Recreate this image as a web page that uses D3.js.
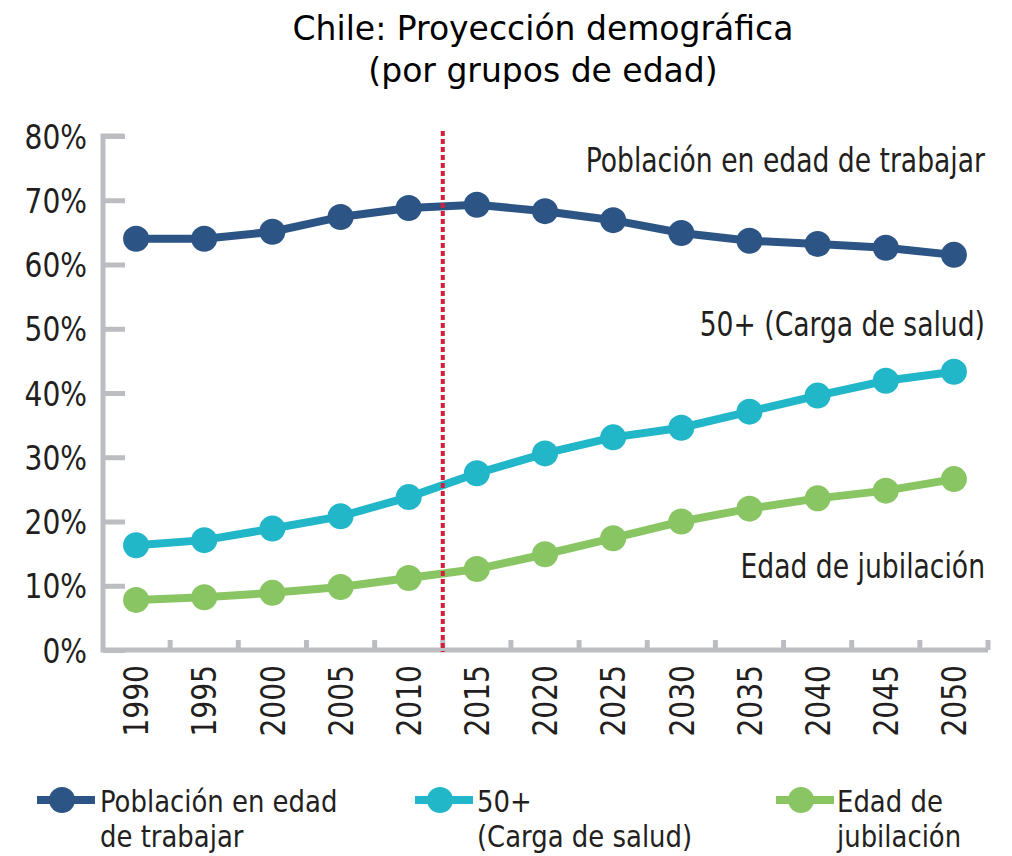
<!DOCTYPE html>
<html>
<head>
<meta charset="utf-8">
<script src="https://cdn.jsdelivr.net/npm/d3@7"></script>
<style>
  body { margin: 0; background: #fff; }
  .narrow { font-family: "Liberation Sans Narrow", "DejaVu Sans Condensed", sans-serif; fill: #231f20; }
  .title { font-family: "DejaVu Sans", sans-serif; font-size: 33px; fill: #000; }
</style>
</head>
<body>
<svg class="chart"></svg>
<script>
// Data
var years = [1990, 1995, 2000, 2005, 2010, 2015, 2020, 2025, 2030, 2035, 2040, 2045, 2050];
var trabajar = [64.0, 64.0, 65.1, 67.4, 68.8, 69.3, 68.3, 66.9, 64.9, 63.7, 63.2, 62.6, 61.5];
var salud = [16.3, 17.1, 18.9, 20.8, 23.8, 27.5, 30.6, 33.1, 34.6, 37.1, 39.6, 41.9, 43.3];
var jubilacion = [7.8, 8.2, 8.9, 9.8, 11.2, 12.6, 14.9, 17.4, 20.0, 22.0, 23.6, 24.8, 26.6];
var yTicks = [0, 10, 20, 30, 40, 50, 60, 70, 80];
var seriesNames = ["Población en edad de trabajar", "50+ (Carga de salud)", "Edad de jubilación"];
var legendLines = [["Población en edad", "de trabajar"], ["50+", "(Carga de salud)"], ["Edad de", "jubilación"]];
var colors = ["#2c5586", "#22b6c9", "#89c663"];
var splitAfter = 2010; // projection starts after this year

var series = [trabajar, salud, jubilacion].map(function(vals, i) {
  return { name: seriesNames[i], color: colors[i], values: years.map(function(y, j) { return { year: y, v: vals[j] }; }) };
});

var W = 1012, H = 856;
var axisColor = "#bcbdc0";
var squeeze = 0.87; // condensed look for the chart text

var x = d3.scaleBand().domain(years).range([102, 988]).padding(0);
var y = d3.scaleLinear().domain([0, 80]).range([650, 136]);
var cx = function(yr) { return x(yr) + x.bandwidth() / 2; };

var svg = d3.select(".chart").attr("width", W).attr("height", H);

// narrow text placed at (px, py)
function narrow(px, py, str, size, anchor, sx) {
  return svg.append("text").attr("class", "narrow")
    .attr("transform", "translate(" + px + "," + py + ") scale(" + (sx || squeeze) + ",1)")
    .attr("text-anchor", anchor || "start")
    .style("font-size", size + "px").text(str);
}

// Title
svg.append("text").attr("class", "title").attr("x", 543).attr("y", 40)
  .attr("text-anchor", "middle").text("Chile: Proyección demográfica");
svg.append("text").attr("class", "title").attr("x", 543).attr("y", 82)
  .attr("text-anchor", "middle").text("(por grupos de edad)");

// Y axis
var yAxis = d3.axisLeft(y).tickValues(yTicks).tickSize(0).tickPadding(0)
  .tickFormat(function(d) { return d + "%"; });
var gy = svg.append("g").attr("transform", "translate(103,0)").call(yAxis);
gy.select(".domain").remove();
gy.selectAll("text").attr("class", "narrow").style("font-size", "34px")
  .attr("x", -16 / 0.92).attr("dy", "0.36em").attr("transform", "scale(0.92,1)");
gy.selectAll(".tick").append("line").attr("x1", 0).attr("x2", 22)
  .attr("stroke", axisColor).attr("stroke-width", 5);

// X axis
var xAxis = d3.axisBottom(x).tickSize(0).tickPadding(0);
var gx = svg.append("g").attr("transform", "translate(0,650)").call(xAxis);
gx.select(".domain").remove();
gx.selectAll("text").attr("class", "narrow").style("font-size", "34px")
  .attr("transform", "rotate(-90) scale(0.92,1)").attr("text-anchor", "end")
  .attr("x", -15 / 0.92).attr("y", 0).attr("dy", "0.36em");

// axis lines
svg.append("path")
  .attr("d", "M124,136 H103 V650 H988")
  .attr("fill", "none").attr("stroke", axisColor).attr("stroke-width", 5);
svg.selectAll(".xtick").data(years.slice(1).concat(["end"]))
  .enter().append("line")
  .attr("x1", function(d) { return d === "end" ? 988 : x(d); })
  .attr("x2", function(d) { return d === "end" ? 988 : x(d); })
  .attr("y1", 640).attr("y2", 650)
  .attr("stroke", axisColor).attr("stroke-width", 5);

// Lines and markers
var line = d3.line().x(function(d) { return cx(d.year); }).y(function(d) { return y(d.v); });
series.forEach(function(s) {
  svg.append("path").datum(s.values).attr("d", line)
    .attr("fill", "none").attr("stroke", s.color).attr("stroke-width", 8);
  svg.selectAll(null).data(s.values).enter().append("circle")
    .attr("cx", function(d) { return cx(d.year); })
    .attr("cy", function(d) { return y(d.v); })
    .attr("r", 13).attr("fill", s.color);
});

// Projection divider
var splitX = x(splitAfter) + x.bandwidth();
svg.append("line").attr("x1", splitX).attr("x2", splitX).attr("y1", 131).attr("y2", 652)
  .attr("stroke", "#d21f3b").attr("stroke-width", 4).attr("stroke-dasharray", "5,3");

// Series labels
var labelY = [172, 336, 578];
seriesNames.forEach(function(n, i) {
  narrow(985, labelY[i], n, 34, "end");
});

// Legend
var legX = [62, 440, 801];
var legTextX = [100, 477, 837];
series.forEach(function(s, i) {
  svg.append("line").attr("x1", legX[i] - 25).attr("x2", legX[i] + 33).attr("y1", 800).attr("y2", 800)
    .attr("stroke", s.color).attr("stroke-width", 8);
  svg.append("circle").attr("cx", legX[i]).attr("cy", 800).attr("r", 13).attr("fill", s.color);
  legendLines[i].forEach(function(t, k) {
    narrow(legTextX[i], 812 + k * 35, t, 31, "start", 0.93);
  });
});
</script>
</body>
</html>
